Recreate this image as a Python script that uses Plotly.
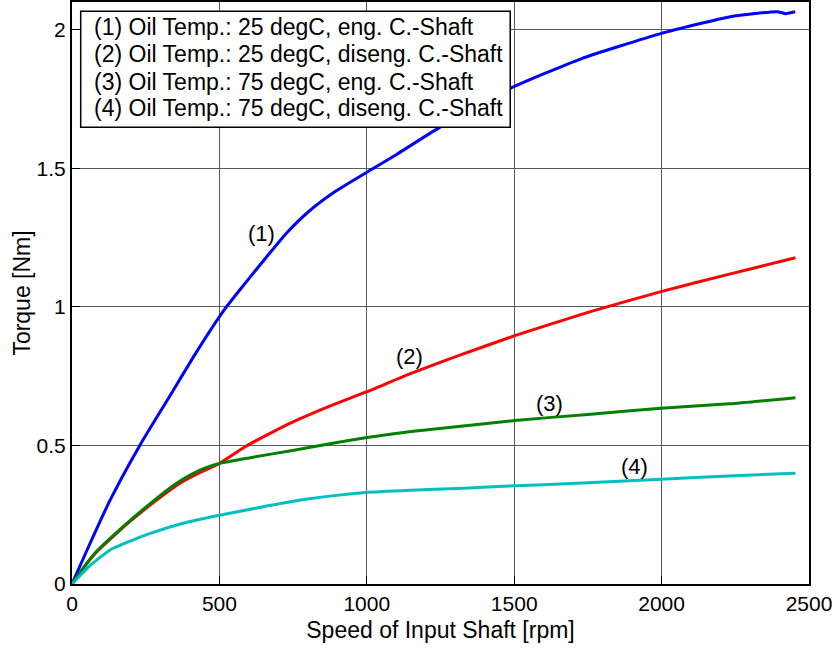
import plotly.graph_objects as go

# ---- data ----
speed_1 = [0, 50, 128, 230, 330, 421, 517, 585, 660, 725, 804, 894, 1007, 1101, 1243, 1490, 1727, 1997, 2233, 2392, 2420, 2440, 2453]
torque_1 = [0, 0.12, 0.30, 0.50, 0.675, 0.835, 0.99, 1.082, 1.18, 1.263, 1.345, 1.417, 1.49, 1.55, 1.645, 1.79, 1.895, 1.986, 2.047, 2.065, 2.058, 2.062, 2.065]

speed_2 = [0, 40, 83, 185, 286, 365, 430, 500, 590, 680, 748, 870, 996, 1150, 1311, 1502, 1750, 1998, 2230, 2454]
torque_2 = [0, 0.06, 0.115, 0.215, 0.302, 0.363, 0.40, 0.435, 0.497, 0.548, 0.584, 0.64, 0.692, 0.76, 0.824, 0.896, 0.98, 1.055, 1.118, 1.177]

speed_3 = [0, 40, 83, 185, 286, 350, 399, 450, 500, 600, 748, 870, 996, 1150, 1311, 1502, 1750, 1998, 2230, 2454]
torque_3 = [0, 0.06, 0.117, 0.218, 0.308, 0.36, 0.392, 0.418, 0.435, 0.455, 0.482, 0.505, 0.528, 0.55, 0.568, 0.59, 0.612, 0.634, 0.65, 0.672]

speed_4 = [0, 61, 128, 200, 263, 380, 500, 640, 770, 880, 996, 1150, 1311, 1446, 1750, 1998, 2230, 2454]
torque_4 = [0, 0.066, 0.122, 0.156, 0.182, 0.22, 0.248, 0.277, 0.302, 0.318, 0.33, 0.338, 0.345, 0.352, 0.365, 0.378, 0.39, 0.40]

series_labels = [
    "(1) Oil Temp.: 25 degC, eng. C.-Shaft",
    "(2) Oil Temp.: 25 degC, diseng. C.-Shaft",
    "(3) Oil Temp.: 75 degC, eng. C.-Shaft",
    "(4) Oil Temp.: 75 degC, diseng. C.-Shaft",
]
curve_tags = ["(1)", "(2)", "(3)", "(4)"]
tag_x = [642, 1144, 1620, 1907]
tag_y = [1.263, 0.82, 0.652, 0.424]

x_ticks = [0, 500, 1000, 1500, 2000, 2500]
y_ticks = [0, 0.5, 1, 1.5, 2]
y_tick_text = ["0", "0.5", "1", "1.5", "2"]

colors = ["#0000ff", "#ff0000", "#008000", "#00bfbf"]
FONT = "Liberation Sans, Arial, sans-serif"

fig = go.Figure()
for xs, ys, c, name in zip([speed_1, speed_2, speed_3, speed_4],
                           [torque_1, torque_2, torque_3, torque_4], colors, series_labels):
    fig.add_trace(go.Scatter(x=xs, y=ys, mode="lines", name=name,
                             line=dict(color=c, width=3, shape="spline", smoothing=0.5),
                             showlegend=False))

# curve tags
for t, xx, yy in zip(curve_tags, tag_x, tag_y):
    fig.add_annotation(x=xx, y=yy, text=t, showarrow=False,
                       font=dict(family=FONT, size=22, color="black"))

# legend box (no line samples, as in the reference)
fig.add_shape(type="rect", xref="paper", yref="paper",
              x0=0.0118, x1=0.5946, y0=0.7848, y1=0.984,
              line=dict(color="black", width=1.5), fillcolor="white", layer="above")
legend_y = [0.957, 0.9104, 0.863, 0.8173]
for lab, ly in zip(series_labels, legend_y):
    fig.add_annotation(xref="paper", yref="paper", x=0.0275, y=ly, text=lab,
                       showarrow=False, xanchor="left", yanchor="middle",
                       font=dict(family=FONT, size=23, color="black"))

axis_common = dict(showline=True, linecolor="black", linewidth=2, mirror=True,
                   showgrid=True, gridcolor="#5a5a5a", gridwidth=1,
                   zeroline=False, ticks="inside", ticklen=8, tickcolor="black",
                   tickfont=dict(family=FONT, size=21, color="black"))

fig.update_xaxes(range=[0, 2500], tickvals=x_ticks, ticklabeloverflow="allow",
                 title=dict(text="Speed of Input Shaft [rpm]", standoff=8,
                            font=dict(family=FONT, size=23, color="black")),
                 **axis_common)
fig.update_yaxes(range=[0, 2.1], tickvals=y_ticks, ticktext=y_tick_text,
                 title=dict(text="Torque [Nm]", standoff=0,
                            font=dict(family=FONT, size=23, color="black")),
                 **axis_common)

fig.update_layout(width=832, height=653,
                  margin=dict(l=72, r=20, t=0, b=69),
                  plot_bgcolor="white", paper_bgcolor="white",
                  font=dict(family=FONT, color="black"))

fig.write_html("out.html")
